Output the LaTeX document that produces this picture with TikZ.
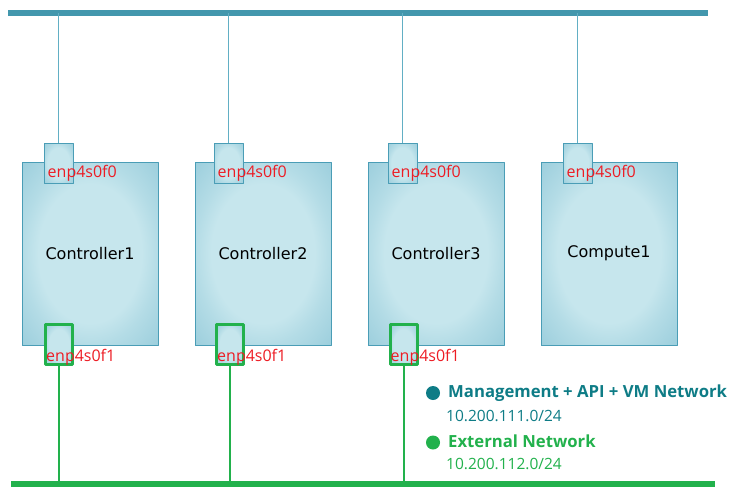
\documentclass[tikz,border=0pt]{standalone}
\usepackage{fontspec}
\setmainfont{DejaVu Sans}
\newfontfamily\nicfont{Open Sans}
\usetikzlibrary{positioning}
\definecolor{mgmtbar}{HTML}{4397AD}
\definecolor{mgmtline}{HTML}{62AFC4}
\definecolor{hostline}{HTML}{4A9DB6}
\definecolor{hostin}{HTML}{C6E6ED}
\definecolor{hostmid}{HTML}{B4DCE6}
\definecolor{hostout}{HTML}{9DCFDD}
\definecolor{extgreen}{HTML}{22B14C}
\definecolor{ifred}{HTML}{ED1C24}
\definecolor{mgmttext}{HTML}{0E7C86}
\pgfdeclareradialshading{hostglow}{\pgfpoint{0bp}{0bp}}{color(0bp)=(hostin); color(19bp)=(hostin); color(25bp)=(hostmid); color(35bp)=(hostout); color(50bp)=(hostout)}
\begin{document}
\begin{tikzpicture}[x=1pt,y=-1pt,line join=round,
	host/.style={draw=hostline,line width=0.8pt,shading=hostglow,minimum width=136pt,minimum height=183pt,inner sep=0pt,font=\fontsize{16}{18}\selectfont},
	nic/.style={draw=hostline,line width=0.8pt,shading=hostglow,minimum width=29pt,minimum height=40pt,inner sep=0pt},
	extnic/.style={nic,draw=extgreen,line width=3pt,minimum width=27pt,minimum height=40pt},
	ifname/.style={text=ifred,font=\nicfont\fontsize{16}{18}\selectfont,inner sep=0pt,anchor=base west},
	mgmtlink/.style={draw=mgmtline,line width=1pt},
	extlink/.style={draw=extgreen,line width=2pt},
	legdot/.style={circle,fill=#1,minimum size=14pt,inner sep=0pt},
	legtext/.style={text=#1,font=\nicfont\fontsize{15.5}{18}\selectfont,inner sep=0pt,anchor=base west},
	leghead/.style={legtext=#1,font=\nicfont\fontsize{16.7}{18}\selectfont\bfseries}]
	\useasboundingbox (0,0) rectangle (744,495);
	% networks
	\coordinate (mgmtL) at (8,13); \coordinate (mgmtR) at (708,13);
	\coordinate (extL) at (11,483.5); \coordinate (extR) at (715,483.5);
	\draw[mgmtbar,line width=6pt] (mgmtL)--(mgmtR);
	\draw[extgreen,line width=6pt] (extL)--(extR);
	% hosts
	\foreach \i/\hname/\hx/\nx in {1/Controller1/90/58.5,2/Controller2/263/228.5,3/Controller3/436/402.5,4/Compute1/609/577.5}{
		\draw[mgmtlink] (\nx,13)--(\nx,143);
		\node[host] (h\i) at (\hx,253.5) {\hname};
		\node[nic] (up\i) at (\nx,163) {};
		\node[ifname] (upl\i) at (\nx-11,177) {enp4s0f0};
	}
	\foreach \i/\nx in {1/59,2/230,3/403.5}{
		\node[extnic] (dn\i) at (\nx,344.5) {};
		\node[ifname] (dnl\i) at (\nx-13,361.5) {enp4s0f1};
		\draw[extlink] (dn\i.south)--(dn\i.south |- extL);
	}
	% legend
	\node[legdot=mgmttext] (lg1) at (433,393) {};
	\node[leghead=mgmttext] (lg1t) at (448,397.3) {Management + API + VM Network};
	\node[legtext=mgmttext] (lg1n) at (446,421.7) {10.200.111.0/24};
	\node[legdot=extgreen] (lg2) at (433,442.5) {};
	\node[leghead=extgreen] (lg2t) at (448,447.3) {External Network};
	\node[legtext=extgreen] (lg2n) at (446,469.3) {10.200.112.0/24};
\end{tikzpicture}
\end{document}
